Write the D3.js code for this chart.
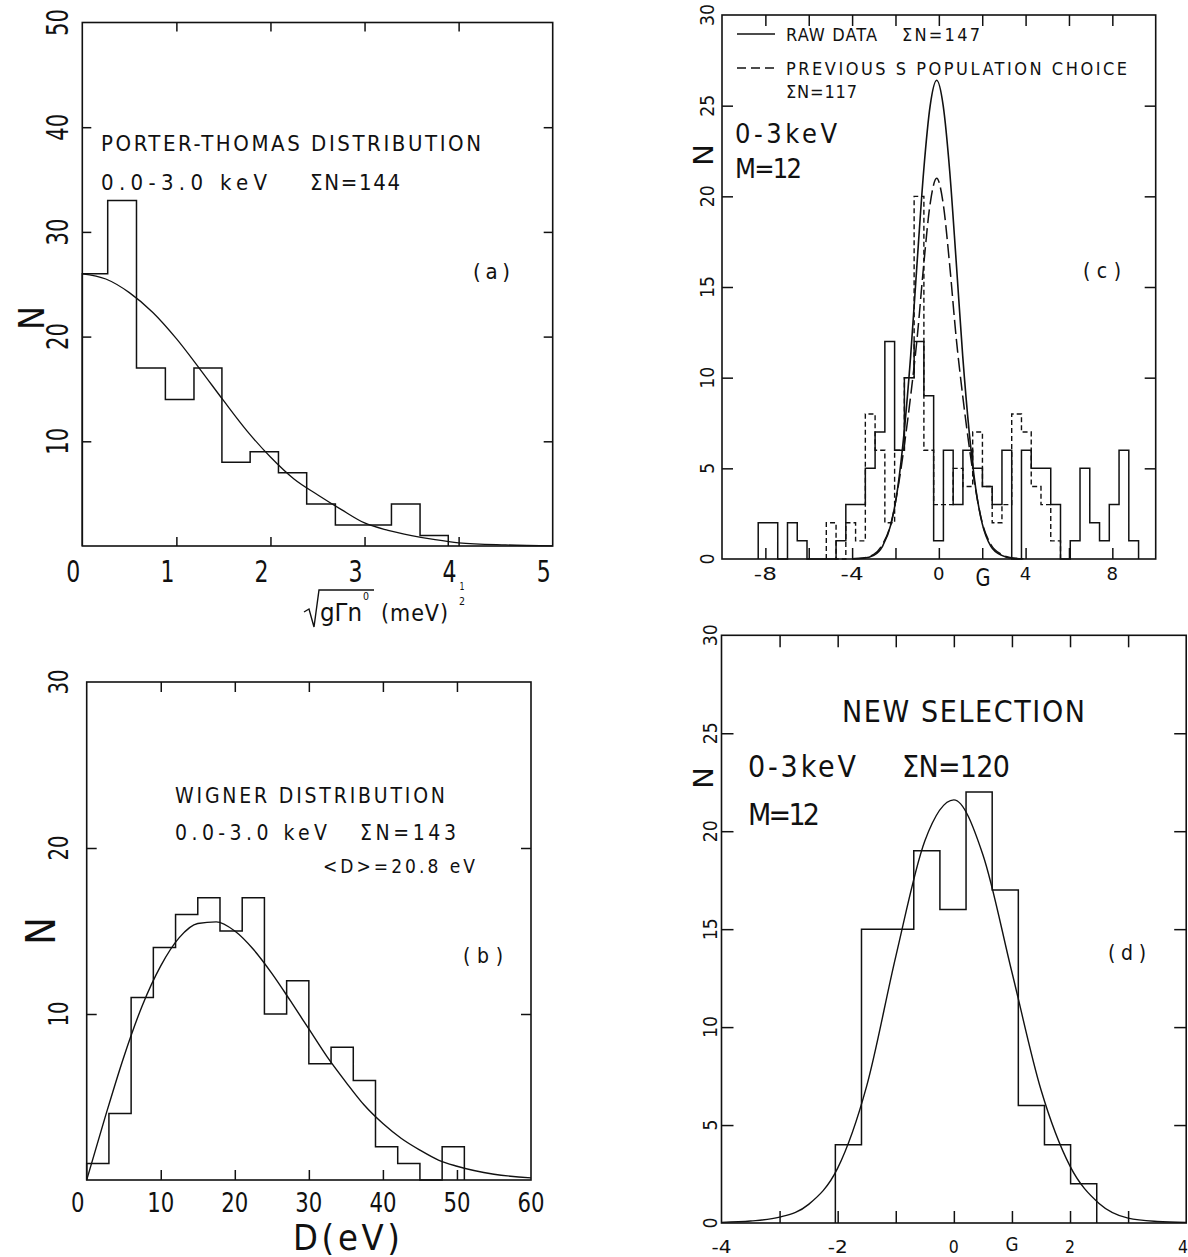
<!DOCTYPE html>
<html><head><meta charset="utf-8">
<script src="https://cdn.jsdelivr.net/npm/d3@7"></script>
<style>
html,body{margin:0;padding:0;background:#fff;}
svg{display:block;}
text{font-family:"DejaVu Sans","Liberation Sans",sans-serif;font-stretch:condensed;fill:#111;}
</style></head><body>
<svg id="chart" width="1188" height="1257"></svg>
<script>
// ---------- Panel (a): Porter-Thomas ----------
const aBinEdges = [0, 0.27, 0.576, 0.883, 1.187, 1.484, 1.784, 2.085, 2.385, 2.69, 2.99, 3.286, 3.59, 3.89];
const aCounts   = [26, 33, 17, 14, 17, 8, 9, 7, 4, 2, 2, 4, 1];
const aCurveX   = [0, 0.25, 0.5, 0.75, 1, 1.25, 1.5, 1.75, 2, 2.25, 2.5, 2.75, 3, 3.25, 3.5, 3.75, 4, 4.5, 5];
const aCurveN   = [26, 25.5, 24.2, 22.3, 19.8, 16.9, 13.9, 11.0, 8.5, 6.4, 4.9, 3.5, 2.2, 1.5, 1.0, 0.6, 0.3, 0.1, 0.02];
const aXLabels  = [0, 1, 2, 3, 4, 5];
const aYLabels  = [10, 20, 30, 40, 50];
const aXTicks   = [1, 2, 3, 4];
const aYTicks   = [10, 20, 30, 40];

// ---------- Panel (b): Wigner ----------
const bBinEdges = [0, 3, 6, 9, 12, 15, 18, 21, 24, 27, 30, 33, 36, 39, 42, 45, 48, 51];
const bCounts   = [1, 4, 11, 14, 16, 17, 15, 17, 10, 12, 7, 8, 6, 2, 1, 0, 2];
const bCurveX   = [0, 2.5, 5, 7.5, 10, 12.5, 15, 17.5, 20, 22.5, 25, 27.5, 30, 32.5, 35, 37.5, 40, 42.5, 45, 47.5, 50, 55, 60];
const bCurveN   = [0, 3.8, 7.4, 10.5, 12.9, 14.6, 15.45, 15.55, 15.0, 13.9, 12.45, 10.8, 9.1, 7.4, 5.9, 4.5, 3.4, 2.5, 1.8, 1.2, 0.83, 0.35, 0.13];
const bXLabels  = [0, 10, 20, 30, 40, 50, 60];
const bYLabels  = [10, 20, 30];
const bXTicks   = [10, 20, 30, 40, 50];
const bYTicks   = [10, 20];

// ---------- Panel (c): raw data vs previous choice ----------
const cBinEdges = [-8.33, -7.88, -7.43, -6.98, -6.53, -6.08, -5.63, -5.19, -4.74, -4.29, -3.84, -3.39, -2.94, -2.49,
                   -2.04, -1.59, -1.14, -0.69, -0.24, 0.21, 0.66, 1.11, 1.56, 2.01, 2.46, 2.91, 3.36, 3.81, 4.26,
                   4.71, 5.16, 5.61, 6.06, 6.51, 6.96, 7.41, 7.86, 8.31, 8.76, 9.21];
const cRawCounts  = [2, 2, 0, 2, 1, 0, 0, 0, 1, 3, 3, 5, 7, 12, 6, 10, 12, 9, 1, 6, 3, 6, 5, 4, 3, 6, 0, 6, 5, 5, 3, 0, 1, 5, 2, 1, 3, 6, 1];
const cPrevCounts = [0, 0, 0, 0, 0, 0, 0, 2, 0, 2, 1, 8, 6, 2, 6, 10, 20, 6, 3, 3, 5, 4, 7, 4, 2, 3, 8, 7, 4, 3, 1, 0, 0, 0, 0, 0, 0, 0, 0];
const cCurveX     = [-4, -3.5, -3.0, -2.6, -2.2, -1.9, -1.6, -1.3, -1.0, -0.7, -0.4, -0.1, 0.2, 0.5, 0.8, 1.1, 1.4, 1.7, 2.0, 2.4, 2.9, 3.4, 3.9];
const cRawCurveN  = [0.01, 0.04, 0.2, 0.7, 1.95, 3.9, 7.0, 11.2, 16.4, 21.4, 25.0, 26.4, 25.0, 21.4, 16.4, 11.2, 7.0, 3.9, 1.95, 0.7, 0.2, 0.04, 0.01];
const cPrevCurveN = [0.01, 0.05, 0.25, 0.8, 2.0, 3.8, 6.2, 9.0, 12.2, 16.2, 19.6, 21.0, 19.6, 16.2, 12.2, 9.0, 6.2, 3.8, 2.0, 0.8, 0.25, 0.05, 0.01];
const cXLabels  = [-8, -4, 0, 4, 8];
const cYLabels  = [0, 5, 10, 15, 20, 25, 30];
const cXTicks   = [-8, -6, -4, -2, 0, 2, 4, 6, 8];
const cYTicks   = [5, 10, 15, 20, 25];

// ---------- Panel (d): new selection ----------
const dBinEdges = [-2.04, -1.59, -1.14, -0.69, -0.24, 0.21, 0.66, 1.11, 1.56, 2.01, 2.46];
const dCounts   = [4, 15, 15, 19, 16, 22, 17, 6, 4, 2];
const dCurveX   = [-4, -3.5, -3, -2.5, -2, -1.5, -1, -0.5, 0, 0.5, 1, 1.5, 2, 2.5, 3, 3.5, 4];
const dCurveN   = [0.03, 0.1, 0.3, 0.95, 2.8, 7.0, 13.6, 19.5, 21.6, 18.8, 12.8, 6.8, 2.9, 1.0, 0.25, 0.08, 0.03];
const dXLabels  = [-4, -2, 0, 2, 4];
const dYLabels  = [0, 5, 10, 15, 20, 25, 30];
const dXTicks   = [-3, -2, -1, 0, 1, 2, 3];
const dYTicks   = [5, 10, 15, 20, 25];

// ================= drawing =================
const svg = d3.select('#chart');
const INK = '#111';

function txt(g, x, y, s, size, o = {}) {
  const t = g.append('text').attr('font-size', size).text(s);
  if (o.rot) {
    t.attr('transform', `translate(${x},${y}) rotate(-90)`).attr('text-anchor', o.anchor || 'middle');
  } else {
    t.attr('x', x).attr('y', y).attr('text-anchor', o.anchor || 'start');
  }
  if (o.len) t.attr('textLength', o.len).attr('lengthAdjust', o.adj || 'spacingAndGlyphs');
  return t;
}
// plotter-style annotation: spread out to the measured width
function note(g, x, y, s, size, len) {
  return txt(g, x, y, s, size, { len: len, adj: 'spacing' });
}

function makePanel(c) {
  const g = svg.append('g');
  const x = d3.scaleLinear().domain(c.xd).range(c.xr);
  const y = d3.scaleLinear().domain(c.yd).range(c.yr);
  g.append('rect').attr('x', c.xr[0]).attr('y', c.yr[1])
    .attr('width', c.xr[1] - c.xr[0]).attr('height', c.yr[0] - c.yr[1])
    .attr('fill', 'none').attr('stroke', INK).attr('stroke-width', 1.6);
  const L = c.tick;
  const style = sel => { sel.select('.domain').remove(); sel.selectAll('.tick line').attr('stroke', INK).attr('stroke-width', 1.5); sel.selectAll('.tick text').remove(); };
  g.append('g').attr('transform', `translate(0,${c.yr[0]})`).call(d3.axisBottom(x).tickValues(c.xTicks).tickSize(-L).tickFormat('')).call(style);
  g.append('g').attr('transform', `translate(0,${c.yr[1]})`).call(d3.axisTop(x).tickValues(c.xTicks).tickSize(-L).tickFormat('')).call(style);
  g.append('g').attr('transform', `translate(${c.xr[0]},0)`).call(d3.axisLeft(y).tickValues(c.yTicks).tickSize(-L).tickFormat('')).call(style);
  g.append('g').attr('transform', `translate(${c.xr[1]},0)`).call(d3.axisRight(y).tickValues(c.yTicks).tickSize(-L).tickFormat('')).call(style);
  c.xLabels.forEach((v, i) => {
    const s = String(v);
    const dx = (c.shiftSingle && s.length === 1) ? -9 : 0;
    const last = c.clipLast && i === c.xLabels.length - 1;
    txt(g, last ? 1188 : x(v) + dx, c.xLabY, s, c.xLabSize, { anchor: last ? 'end' : 'middle', len: s.length * c.xCharW });
  });
  c.yLabels.forEach(v => {
    const s = String(v);
    txt(g, c.yLabX, y(v), s, c.yLabSize, { rot: true, len: s.length * c.yCharW });
  });
  return { g, x, y };
}

function stepLine(p, edges, counts) {
  const pts = [[edges[0], 0]];
  counts.forEach((n, i) => { pts.push([edges[i], n]); pts.push([edges[i + 1], n]); });
  pts.push([edges[counts.length], 0]);
  return d3.line().x(d => p.x(d[0])).y(d => p.y(d[1]))(pts);
}
function curveLine(p, xs, ys) {
  return d3.line().curve(d3.curveMonotoneX).x(d => p.x(d[0])).y(d => p.y(d[1]))(xs.map((v, i) => [v, ys[i]]));
}

// ---------- (a) ----------
const pa = makePanel({ xd: [0, 5], xr: [82.3, 552.7], yd: [0, 50], yr: [546, 22.5], tick: 9,
  xTicks: aXTicks, yTicks: aYTicks, xLabels: aXLabels, yLabels: aYLabels,
  xLabY: 582, xLabSize: 30, xCharW: 14, yLabX: 68, yLabSize: 30, yCharW: 13.5, shiftSingle: true });
pa.g.append('path').attr('d', stepLine(pa, aBinEdges, aCounts)).attr('fill', 'none').attr('stroke', INK).attr('stroke-width', 1.5);
pa.g.append('path').attr('d', curveLine(pa, aCurveX, aCurveN)).attr('fill', 'none').attr('stroke', INK).attr('stroke-width', 1.3);
note(pa.g, 101, 151, 'PORTER-THOMAS DISTRIBUTION', 22, 380);
note(pa.g, 101, 190, '0.0-3.0 keV', 22, 166);
note(pa.g, 310, 190, '\u03A3N=144', 22, 90);
note(pa.g, 473, 279, '(a)', 22, 37);
txt(pa.g, 44, 318, 'N', 36, { rot: true, len: 24 });
// x-axis title: sqrt(g Gamma_n^0) (meV)^1/2
pa.g.append('path').attr('d', 'M304,612 L309,609 L314,627 L319,590 L374,590')
  .attr('fill', 'none').attr('stroke', INK).attr('stroke-width', 1.4);
txt(pa.g, 320, 621, 'g\u0393n', 24, { len: 42 });
txt(pa.g, 363, 600, '0', 11, { len: 6 });
note(pa.g, 381, 621, '(meV)', 23, 67);
txt(pa.g, 462, 590, '1', 11, { anchor: 'middle', len: 5 });
txt(pa.g, 462, 605, '2', 11, { anchor: 'middle', len: 6 });

// ---------- (b) ----------
const pb = makePanel({ xd: [0, 60], xr: [86.7, 531], yd: [0, 30], yr: [1180, 682], tick: 10,
  xTicks: bXTicks, yTicks: bYTicks, xLabels: bXLabels, yLabels: bYLabels,
  xLabY: 1212, xLabSize: 26, xCharW: 13.5, yLabX: 68, yLabSize: 27, yCharW: 12.5, shiftSingle: true });
pb.g.append('path').attr('d', stepLine(pb, bBinEdges, bCounts)).attr('fill', 'none').attr('stroke', INK).attr('stroke-width', 1.5);
pb.g.append('path').attr('d', curveLine(pb, bCurveX, bCurveN)).attr('fill', 'none').attr('stroke', INK).attr('stroke-width', 1.4);
note(pb.g, 175, 803, 'WIGNER DISTRIBUTION', 21, 270);
note(pb.g, 175, 840, '0.0-3.0 keV', 21, 152);
note(pb.g, 360, 840, '\u03A3N=143', 21, 96);
note(pb.g, 323, 873, '<D>=20.8 eV', 19, 152);
note(pb.g, 463, 963, '(b)', 21, 40);
txt(pb.g, 55, 931, 'N', 40, { rot: true, len: 28 });
note(pb.g, 293, 1250, 'D(eV)', 36, 107);

// ---------- (c) ----------
const pc = makePanel({ xd: [-10, 10], xr: [722, 1155.7], yd: [0, 30], yr: [559, 15], tick: 11,
  xTicks: cXTicks, yTicks: cYTicks, xLabels: cXLabels, yLabels: cYLabels,
  xLabY: 580, xLabSize: 17, xCharW: 11.5, yLabX: 714, yLabSize: 19, yCharW: 11, shiftSingle: false });
pc.g.append('path').attr('d', stepLine(pc, cBinEdges, cRawCounts)).attr('fill', 'none').attr('stroke', INK).attr('stroke-width', 1.5);
{
  const first = cPrevCounts.findIndex(v => v > 0);
  let last = cPrevCounts.length - 1; while (cPrevCounts[last] === 0) last--;
  const e = cBinEdges.slice(first, last + 2), n = cPrevCounts.slice(first, last + 1);
  pc.g.append('path').attr('d', stepLine(pc, e, n)).attr('fill', 'none').attr('stroke', INK).attr('stroke-width', 1.4).attr('stroke-dasharray', '5,3');
}
pc.g.append('path').attr('d', curveLine(pc, cCurveX, cRawCurveN)).attr('fill', 'none').attr('stroke', INK).attr('stroke-width', 1.6);
pc.g.append('path').attr('d', curveLine(pc, cCurveX, cPrevCurveN)).attr('fill', 'none').attr('stroke', INK).attr('stroke-width', 1.5).attr('stroke-dasharray', '14,5');
pc.g.append('line').attr('x1', 737).attr('x2', 775).attr('y1', 34).attr('y2', 34).attr('stroke', INK).attr('stroke-width', 1.5);
pc.g.append('line').attr('x1', 737).attr('x2', 776).attr('y1', 68).attr('y2', 68).attr('stroke', INK).attr('stroke-width', 1.5).attr('stroke-dasharray', '9,5');
note(pc.g, 786, 41, 'RAW DATA', 18, 91);
note(pc.g, 902, 41, '\u03A3N=147', 18, 78);
note(pc.g, 786, 75, 'PREVIOUS S POPULATION CHOICE', 18, 341);
note(pc.g, 786, 98, '\u03A3N=117', 18, 71);
note(pc.g, 735, 143, '0-3keV', 27, 102);
note(pc.g, 735, 178, 'M=12', 27, 67);
note(pc.g, 1083, 278, '(c)', 21, 38);
txt(pc.g, 713, 155, 'N', 26, { rot: true, len: 22 });
txt(pc.g, 983, 586, 'G', 25, { anchor: 'middle', len: 15 });

// ---------- (d) ----------
const pd = makePanel({ xd: [-4, 4], xr: [721.5, 1186.2], yd: [0, 30], yr: [1223, 635.3], tick: 12,
  xTicks: dXTicks, yTicks: dYTicks, xLabels: dXLabels, yLabels: dYLabels,
  xLabY: 1253, xLabSize: 18, xCharW: 10, yLabX: 717, yLabSize: 19, yCharW: 11, shiftSingle: false, clipLast: true });
pd.g.append('path').attr('d', stepLine(pd, dBinEdges, dCounts)).attr('fill', 'none').attr('stroke', INK).attr('stroke-width', 1.5);
pd.g.append('path').attr('d', curveLine(pd, dCurveX, dCurveN)).attr('fill', 'none').attr('stroke', INK).attr('stroke-width', 1.4);
note(pd.g, 842, 722, 'NEW SELECTION', 30, 243);
note(pd.g, 748, 777, '0-3keV', 30, 108);
note(pd.g, 902, 777, '\u03A3N=120', 30, 108);
note(pd.g, 748, 825, 'M=12', 30, 72);
note(pd.g, 1108, 960, '(d)', 21, 38);
txt(pd.g, 713, 778, 'N', 26, { rot: true, len: 22 });
txt(pd.g, 1012, 1251, 'G', 20, { anchor: 'middle', len: 13 });
</script>
</body></html>
